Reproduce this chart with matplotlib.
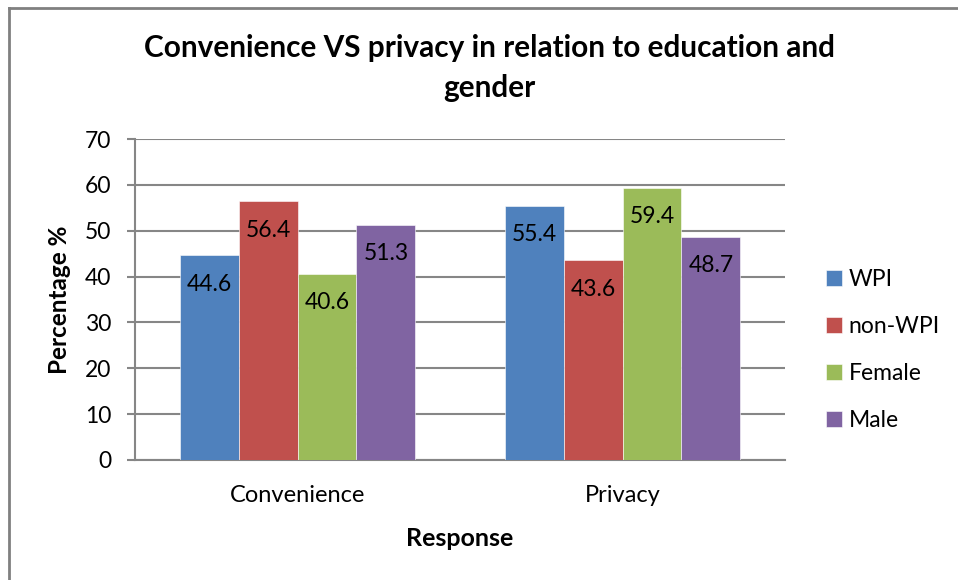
import numpy as np
import matplotlib
matplotlib.use("Agg")
import matplotlib.pyplot as plt
from matplotlib.lines import Line2D

plt.rcParams['font.family'] = ['Lato', 'DejaVu Sans']

# data
categories = ['Convenience', 'Privacy']
series_names = ['WPI', 'non-WPI', 'Female', 'Male']
wpi = [44.6, 55.4]
non_wpi = [56.4, 43.6]
female = [40.6, 59.4]
male = [51.3, 48.7]
colors = ['#4F81BD', '#C0504D', '#9BBB59', '#8064A2']

W, H = 958, 580
fig = plt.figure(figsize=(W / 100, H / 100), dpi=100)

# plot area in pixel terms
left, right, top, bottom = 135, 785, 139, 460
ax = fig.add_axes([left / W, 1 - bottom / H, (right - left) / W, (bottom - top) / H])

grid_col = '#868686'
x = np.arange(len(categories))
bar_w = 0.1815
values = [wpi, non_wpi, female, male]
for i, (name, vals) in enumerate(zip(series_names, values)):
    pos = x + (i - 1.5) * bar_w
    bars = ax.bar(pos, vals, width=bar_w, color=colors[i], label=name,
                  edgecolor='white', linewidth=0.4, zorder=3)
    for b, v in zip(bars, vals):
        ax.annotate(f'{v}', (b.get_x() + b.get_width() / 2, v),
                    xytext=(0, -29), textcoords='offset pixels',
                    ha='center', va='center', fontsize=16.5, color='black', zorder=4)

ax.set_xlim(-0.5, 1.5)
ax.set_ylim(0, 70)
ax.set_yticks(range(0, 71, 10))
ax.set_xticks(x)
ax.set_xticklabels(categories, fontsize=17)
ax.tick_params(axis='y', labelsize=16.5, length=6, width=1.5, color=grid_col, pad=11)
ax.tick_params(axis='x', length=0, pad=18)
ax.yaxis.grid(True, color=grid_col, linewidth=1.5, zorder=0)
ax.set_axisbelow(True)
for side in ['top', 'right']:
    ax.spines[side].set_visible(False)
ax.spines['left'].set_color(grid_col)
ax.spines['left'].set_linewidth(1.5)
ax.spines['bottom'].set_color(grid_col)
ax.spines['bottom'].set_linewidth(1.5)

ax.set_ylabel('Percentage %', fontsize=17.5, fontweight='bold', labelpad=10)
ax.set_xlabel('Response', fontsize=18, fontweight='bold', labelpad=15)

fig.text(0.511, 1 - 68 / H, 'Convenience VS privacy in relation to education and\ngender',
         ha='center', va='center', fontsize=21.4, fontweight='bold', linespacing=1.55)

leg = ax.legend(loc='center left', bbox_to_anchor=(1.031, 0.343), frameon=False,
                fontsize=16.5, handlelength=0.7, handleheight=0.7, handletextpad=0.3,
                labelspacing=1.14)

# outer chart border (left and top edges)
fig.add_artist(Line2D([8.5 / W, 8.5 / W], [0, 1 - 7.5 / H], transform=fig.transFigure,
                      color='#808080', linewidth=2))
fig.add_artist(Line2D([8.5 / W, 1], [1 - 7.5 / H, 1 - 7.5 / H], transform=fig.transFigure,
                      color='#808080', linewidth=2))

fig.savefig('out.png', dpi=100)
